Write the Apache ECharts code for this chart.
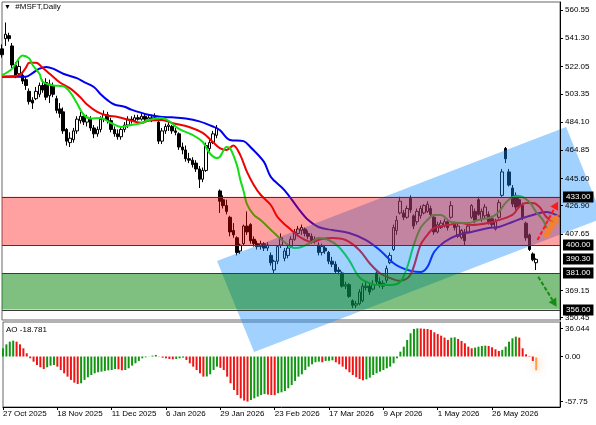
<!DOCTYPE html>
<html>
<head>
<meta charset="utf-8">
<script src="https://cdn.jsdelivr.net/npm/echarts@6/dist/echarts.min.js"></script>
<style>
  html, body { margin: 0; padding: 0; background: #fff; }
  #chart { width: 596px; height: 425px; }
</style>
</head>
<body>
<div id="chart"></div>
<script>
const symbolTitle = '#MSFT,Daily'

// daily bars, [open, close, low, high]
const candles = [
  [534,530,528,537],[541,544,536,552],[543,541,539,545],[536,523,521,538],[523,516,514,525],
  [517,522,515,526],[516,512,510,518],[513,509,506,515],[505,498,496,507],[499,497,493,501],
  [500,505,499,508],[503,509,501,511],[509,506,504,513],[511,501,499,514],[502,510,497,513],
  [509,503,501,511],[500,492,490,502],[493,490,487,497],[491,478,476,494],[479,471,468,480],
  [470,473,467,477],[472,478,470,480],[478,486,476,488],[485,488,483,491],[488,484,482,490],
  [484,487,481,489],[486,480,478,488],[480,476,473,482],[476,479,474,481],[479,486,477,488],
  [486,489,484,492],[489,485,483,491],[485,479,477,487],[479,476,474,481],[476,474,472,479],
  [474,479,472,481],[479,482,477,484],[482,486,480,488],[486,485,483,488],[485,487,484,489],
  [487,486,485,489],[486,488,485,490],[488,486,484,490],[486,487,485,489],[487,486,484,489],
  [486,487,485,490],[484,471,469,486],[471,478,469,480],[478,481,476,483],[481,482,478,484],
  [481,478,476,482],[478,477,475,480],[476,467,465,477],[467,465,462,470],[465,459,457,468],
  [459,458,456,463],[458,455,453,460],[456,452,450,458],[452,445,439,454],[445,451,443,453],
  [451,468,450,470],[466,470,464,472],[470,476,469,478],[475,480,473,482],[437,430,422,438],
  [431,427,425,434],[427,423,421,431],[419,409,406,420],[410,407,405,415],[405,395,393,406],
  [396,400,394,401],[401,413,400,414],[413,409,407,423],[414,403,401,415],[404,401,399,406],
  [401,399,397,403],[399,401,397,403],[401,398,396,402],[398,400,396,402],[393,388,386,395],
  [383,389,381,390],[389,399,387,400],[400,405,398,408],[391,396,389,398],[393,398,391,400],
  [399,404,398,406],[404,409,403,411],[408,411,406,413],[410,412,407,414],[411,408,406,412],
  [408,406,404,410],[406,403,401,408],[403,404,401,406],[400,395,393,402],[395,399,393,401],
  [398,396,394,400],[395,389,387,396],[389,387,385,392],[387,382,381,389],[383,382,380,385],
  [381,372,371,382],[372,373,370,375],[373,365,364,374],[362,359,357,363],[359,360,357,362],
  [360,368,359,370],[362,372,361,374],[371,372,369,375],[372,368,366,374],[370,373,369,376],
  [381,375,373,383],[375,373,371,378],[372,374,370,376],[376,384,374,386],[388,393,387,395],
  [397,412,396,414],[410,417,407,420],[422,430,421,433],[422,419,417,424],[419,425,418,427],
  [432,424,422,434],[420,413,411,421],[416,423,414,425],[420,425,418,427],[422,427,421,428],
  [423,428,422,430],[425,421,419,427],[419,409,407,421],[409,414,408,416],[412,415,411,417],
  [413,416,412,418],[416,412,410,418],[419,427,418,430],[415,412,410,416],[406,413,405,415],
  [405,410,404,411],[409,403,400,411],[409,413,408,415],[419,427,418,428],[423,417,415,425],
  [431,421,420,433],[418,423,416,425],[420,426,418,428],[421,416,414,423],[418,414,412,420],
  [411,416,410,418],[419,429,418,431],[434,450,433,452],[466,459,456,467],[450,441,440,452],
  [439,428,426,441],[434,426,424,436],[431,427,425,432],[427,419,417,429],[415,405,403,416],
  [407,397,396,408],[394,390,389,395],[388,390.3,383,391]
]

// Alligator lines, [bar, price]
const jaw = [
  [0,515],[7,515],[9,517.5],[11,520.5],[13,521.7],[15,520.5],[18,517],[22,514],[24,511.5],
  [27,508],[29,503],[31,499],[33,496],[36,494.5],[38,492.5],[43,489],[47,487.5],[50,487.3],
  [54,486.5],[58,484.5],[62,481],[64,478.6],[67,471.8],[71,471],[73,467],[77,456.8],[79,446.6],
  [83,437.6],[87,425.3],[90,417.1],[93,412.4],[97,410.3],[102,408.3],[107,403.5],[111,396.7],
  [115,387.8],[117,385],[120,382.5],[123,381.6],[125,385],[127,395.3],[130,402.1],[134,406.9],
  [138,409],[143,411.7],[146,412.4],[150,415.8],[153,418.5],[156,420.6],[158,422],[160,422.6],
  [163,420.6],[164,419.5]
]
const teeth = [
  [0,515],[5,516],[7,521],[8,524.5],[10,524.5],[12,521],[14,517],[17,511],[20,507],[23,501],
  [25,496],[28,491],[31,488.5],[34,487.5],[38,485],[41,483.5],[43,485],[47,485.4],[50,483.4],
  [55,480.7],[59,476.6],[62,470.4],[64,466.3],[66,465],[68,468],[70,461.6],[72,450],[74,441.1],
  [76,434.4],[79,427.4],[81,419.2],[85,410.3],[88,404.9],[91,402.1],[94,404.2],[97,404.9],
  [101,403.5],[105,396.7],[108,387.8],[111,381],[114,377.6],[117,375.6],[120,379.6],[123,400],
  [125,406.9],[127,411.7],[131,413.7],[135,415.1],[138,413.7],[143,415.1],[146,417.1],
  [150,420.6],[152,426],[154,428.8],[156,428.8],[158,426],[160,419.2],[162,415.8]
]
const lips = [
  [0,516],[3,520.5],[5,527.5],[6,529.5],[8,527.5],[9,523],[11,517],[12,511.5],[15,509],
  [18,508.5],[20,504.5],[22,497],[24,489],[26,486.5],[29,486.8],[32,483.4],[35,480.7],[38,482],
  [41,483.4],[43,485.4],[47,486.8],[49,484.8],[52,479.3],[56,475.2],[59,470.4],[61,462.9],
  [63,459.5],[64,460.2],[66,467],[67,466.3],[69,455],[70,445],[71,437],[72,428],[74,420.6],
  [76,417.1],[80,408.3],[83,402.1],[86,398],[88,398.7],[91,402.1],[93,404.9],[96,403.5],
  [99,398.7],[102,389.8],[105,378.2],[108,374.1],[111,372.8],[114,372.8],[117,374.8],
  [119,384.4],[121,400],[123,411.7],[125,417.1],[127,420.6],[129,420.6],[132,415.8],
  [137,415.1],[140,417.1],[144,419.2],[146,422.6],[148,428.8],[150,432.8],[152,433.5],
  [155,429.4],[157,422.6],[159,417.1],[160,411.7]
]

// Awesome Oscillator, one value per bar
const ao = [
  10.5,15.6,19,20.3,19,15.6,10.5,4.1,-2.3,-6.6,
  -10.9,-13.8,-16,-13.8,-11.7,-10.9,-13,-17.3,-21.5,-25.8,
  -30,-33.5,-35.2,-34.3,-30,-26.6,-23.7,-21.5,-20.2,-19.4,
  -18.5,-17.7,-17.3,-16,-16.4,-17.7,-17.3,-15.1,-11.7,-8.7,
  -5.7,-2.3,-1,-0.2,1.1,2,0.3,-1.5,-2.3,-3.2,
  -3.6,-3.2,-2.3,-1.5,-4.4,-8.7,-13,-17.3,-21.5,-25.8,
  -25.6,-22.8,-17.3,-13,-14.5,-17.3,-25.8,-34.3,-42.9,-49.3,
  -53.6,-56.5,-57.75,-55.7,-53.6,-51.4,-49.3,-48,-48.8,-49.3,
  -49.5,-47.1,-45.9,-44.2,-40.7,-36.5,-31.3,-25.8,-22.8,-17.3,
  -13,-10,-7.4,-6.6,-7.4,-5.7,-5.5,-4.9,-7.4,-10,
  -13,-16.4,-20.2,-23.7,-26.6,-28.8,-30.5,-29.2,-27.1,-23.7,
  -21.5,-19.4,-17.3,-15.1,-13,-8.7,-2.3,6.2,12.6,21.2,
  29.7,35.3,36.044,35.9,35.5,35.2,34,31,28.9,26.7,
  24.2,21.2,24.2,24.6,22.5,19.9,16.9,12.6,10.5,11.4,
  12.6,13.5,13.9,13.5,11.8,9.2,7.1,8.4,12.6,19,
  23.3,25.4,24.2,10.5,2.8,-0.6,-5.7,-18.781
]

const priceTicks = [560.55, 541.30, 522.05, 503.35, 484.10, 464.85, 445.60, 426.90, 407.65, 369.15, 350.45]
const aoTicks = [36.044, 0, -57.75]
const dateTicks = [
  [0, '27 Oct 2025'], [16, '18 Nov 2025'], [32, '11 Dec 2025'], [48, '6 Jan 2026'],
  [64, '29 Jan 2026'], [80, '23 Feb 2026'], [96, '17 Mar 2026'], [112, '9 Apr 2026'],
  [128, '1 May 2026'], [144, '26 May 2026']
]

// drawn objects on the chart
const resistanceZone = [400, 433]
const supportZone = [356, 381]
const priceTags = [433.00, 400.00, 390.30, 381.00, 356.00]
const channel = [[63.2, 389.2], [74.1, 327.0], [176.6, 418.5], [165.8, 480.7]]
const arrowUp = [[157.4, 403.5], [163.4, 429.7]]
const arrowOrange = [[159.6, 405.5], [163.6, 421.5]]
const arrowDown = [[157.6, 378.4], [163.0, 358.0]]

const slotCount = 165
const slots = Array.from({ length: slotCount }, (_, i) => String(i))
const dateMap = {}
dateTicks.forEach(([i, label]) => { dateMap[i] = label })
const isDateTick = (idx) => dateMap[idx] !== undefined

const FONT = 'Liberation Sans'

function arrow(a, b, color, width, head, dash) {
  const dx = b[0] - a[0], dy = b[1] - a[1]
  const len = Math.hypot(dx, dy)
  const ux = dx / len, uy = dy / len
  const bx = b[0] - ux * head, by = b[1] - uy * head
  const hw = head * 0.55
  return [
    { type: 'line', z2: 3, shape: { x1: a[0], y1: a[1], x2: bx, y2: by },
      style: { stroke: color, lineWidth: width, lineDash: dash } },
    { type: 'polygon', z2: 3, shape: { points: [b, [bx - uy * hw, by + ux * hw], [bx + uy * hw, by - ux * hw]] },
      style: { fill: color } }
  ]
}

function renderOverlay(params, api) {
  const cs = params.coordSys
  const py = v => api.coord([0, v])[1]
  const kids = []
  kids.push({ type: 'polygon', z2: 0, shape: { points: channel.map(p => api.coord(p)) },
    style: { fill: 'rgba(20,140,255,0.40)' } })
  kids.push({ type: 'rect', z2: 1,
    shape: { x: cs.x, y: py(resistanceZone[1]), width: cs.width, height: py(resistanceZone[0]) - py(resistanceZone[1]) },
    style: { fill: 'rgba(255,0,0,0.37)' } })
  kids.push({ type: 'rect', z2: 1,
    shape: { x: cs.x, y: py(supportZone[1]), width: cs.width, height: py(supportZone[0]) - py(supportZone[1]) },
    style: { fill: 'rgba(0,128,0,0.5)' } })
  resistanceZone.concat(supportZone).forEach(v => {
    const y = Math.round(py(v)) + 0.5
    kids.push({ type: 'line', z2: 2, shape: { x1: cs.x, y1: y, x2: cs.x + cs.width, y2: y },
      style: { stroke: '#3a3a3a', lineWidth: 1 } })
  })
  kids.push(...arrow(api.coord(arrowOrange[0]), api.coord(arrowOrange[1]), 'rgba(255,130,20,0.8)', 6, 10, null))
  kids.push(...arrow(api.coord(arrowUp[0]), api.coord(arrowUp[1]), '#ff1a1a', 2, 8, [4, 2]))
  kids.push(...arrow(api.coord(arrowDown[0]), api.coord(arrowDown[1]), '#168c16', 2, 8, [4, 2]))
  priceTags.forEach(v => {
    kids.push({ type: 'text', z2: 5, x: cs.x + cs.width + 3, y: Math.round(py(v)),
      style: { text: v.toFixed(2), fill: '#fff', backgroundColor: '#000', padding: [2, 3, 1, 3],
        font: '8px ' + FONT, verticalAlign: 'middle', align: 'left' } })
  })
  return { type: 'group', children: kids }
}

const aoData = ao.map((v, i) => {
  if (i === ao.length - 1) {
    return { value: v, itemStyle: { color: '#ff5a00', borderColor: 'rgba(255,150,60,0.9)', borderWidth: 2,
      shadowBlur: 8, shadowColor: '#ff8c30' } }
  }
  const up = i === 0 || v > ao[i - 1]
  return { value: v, itemStyle: { color: up ? '#129612' : '#f01414' } }
})

const chart = echarts.init(document.getElementById('chart'), null, { renderer: 'canvas' })

chart.setOption({
  animation: false,
  backgroundColor: '#fff',
  textStyle: { fontFamily: FONT },
  title: [
    { text: '{t|▼}  ' + symbolTitle, left: 4, top: 3, padding: 0,
      textStyle: { fontSize: 8, fontWeight: 'normal', color: '#000', fontFamily: FONT,
        rich: { t: { fontSize: 7, color: '#000' } } } },
    { text: 'AO ' + ao[ao.length - 1].toFixed(3), left: 6, top: 326, padding: 0,
      textStyle: { fontSize: 8, fontWeight: 'normal', color: '#000', fontFamily: FONT } }
  ],
  grid: [
    { left: 2, width: 558, top: 2, height: 318, show: true, borderColor: '#666', borderWidth: 1 },
    { left: 2, width: 558, top: 322, height: 85, show: true, borderColor: '#666', borderWidth: 1 }
  ],
  xAxis: [
    { type: 'category', gridIndex: 0, data: slots, boundaryGap: false, show: false },
    { type: 'category', gridIndex: 1, data: slots, boundaryGap: false,
      axisLine: { show: true, onZero: false, lineStyle: { color: '#000' } },
      axisTick: { show: true, length: 3, interval: isDateTick, lineStyle: { color: '#000' } },
      axisLabel: { interval: isDateTick, formatter: (v, i) => dateMap[i] || '', align: 'left',
        fontSize: 8, color: '#000', margin: 3, fontFamily: FONT },
      splitLine: { show: false } },
    { type: 'value', gridIndex: 0, min: 0, max: slotCount - 1, show: false }
  ],
  yAxis: [
    { type: 'value', gridIndex: 0, position: 'right', min: 348.88, max: 566.0, z: 10,
      axisLine: { show: true, onZero: false, lineStyle: { color: '#000' } },
      axisTick: { show: true, length: 3, customValues: priceTicks, lineStyle: { color: '#000' } },
      axisLabel: { customValues: priceTicks, formatter: v => v.toFixed(2), fontSize: 8, color: '#000',
        margin: 5, fontFamily: FONT },
      splitLine: { show: false } },
    { type: 'value', gridIndex: 1, position: 'right', min: -64.7, max: 44.2, z: 10,
      axisLine: { show: true, onZero: false, lineStyle: { color: '#000' } },
      axisTick: { show: true, length: 3, customValues: aoTicks, lineStyle: { color: '#000' } },
      axisLabel: { customValues: aoTicks, formatter: v => (v === 0 ? '0.00' : String(v)), fontSize: 8,
        color: '#000', margin: 5, fontFamily: FONT },
      splitLine: { show: false } }
  ],
  series: [
    { type: 'candlestick', xAxisIndex: 0, yAxisIndex: 0, data: candles, barWidth: 3, z: 2,
      itemStyle: { color: '#fff', color0: '#000', borderColor: '#000', borderColor0: '#000', borderWidth: 1 } },
    { type: 'line', xAxisIndex: 2, yAxisIndex: 0, data: jaw, showSymbol: false, smooth: 0.35, z: 3,
      lineStyle: { color: '#0000f0', width: 2 } },
    { type: 'line', xAxisIndex: 2, yAxisIndex: 0, data: teeth, showSymbol: false, smooth: 0.35, z: 3,
      lineStyle: { color: '#f00000', width: 2 } },
    { type: 'line', xAxisIndex: 2, yAxisIndex: 0, data: lips, showSymbol: false, smooth: 0.35, z: 3,
      lineStyle: { color: '#10e010', width: 2 } },
    { type: 'custom', xAxisIndex: 2, yAxisIndex: 0, data: [[0, 400]], clip: false, silent: true, z: 5,
      renderItem: renderOverlay },
    { type: 'bar', xAxisIndex: 1, yAxisIndex: 1, data: aoData, barWidth: 2, z: 2 }
  ]
})
</script>
</body>
</html>
